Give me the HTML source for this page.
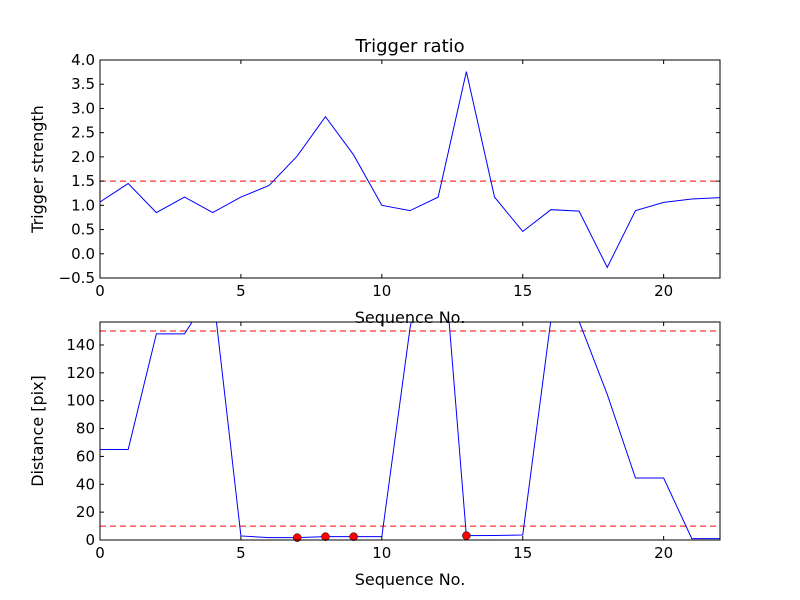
<!DOCTYPE html>
<html><head><meta charset="utf-8"><style>body{margin:0;background:#fff}svg{display:block;font-family:"DejaVu Sans","Liberation Sans",sans-serif}</style></head>
<body>
<svg id="c" width="800" height="600"></svg>
<script>
const xTicks=[0,5,10,15,20];
const ratioValues=[1.07,1.45,0.85,1.17,0.85,1.17,1.41,2.02,2.83,2.04,1.0,0.89,1.17,3.76,1.17,0.46,0.91,0.88,-0.28,0.89,1.06,1.13,1.16];
const ratioThreshold=1.5;
const ratioTicks=[-0.5,0,0.5,1,1.5,2,2.5,3,3.5,4];
const ratioTickLabels=["\u22120.5","0.0","0.5","1.0","1.5","2.0","2.5","3.0","3.5","4.0"];
const distValues=[65,65,148,148,180,2.9,1.7,1.7,2.4,2.4,2.4,152,254,3.1,3.2,3.6,158,157,104.5,44.5,44.5,1,1];
const distMarked=[7,8,9,13];
const distThresholds=[150,10];
const distTicks=[0,20,40,60,80,100,120,140];
const NS="http://www.w3.org/2000/svg";
const svg=document.getElementById('c');
function mk(t,a,p){const e=document.createElementNS(NS,t);for(const k in a)e.setAttribute(k,a[k]);(p||svg).appendChild(e);return e;}
function panel(id,top,bot,ymin,ymax,yt,ytl,vals,thr,title,ylabel,marked){
  const L=100,R=720;
  const sx=v=>L+(v-0)/22*(R-L), sy=v=>bot-(v-ymin)/(ymax-ymin)*(bot-top);
  const g=mk('g',{});
  
  
  const cp=mk('clipPath',{id:id+'-clip'},g);mk('rect',{x:L,y:top,width:R-L,height:bot-top},cp);
  const plot=mk('g',{'clip-path':'url(#'+id+'-clip)'},g);
  thr.forEach(t=>{const l=mk('line',{x1:L,x2:R,y1:sy(t),y2:sy(t),stroke:'#ff0000','stroke-dasharray':'6,4','stroke-width':1},plot);
    });
  const pl=mk('polyline',{points:vals.map((v,i)=>sx(i)+','+sy(v)).join(' '),fill:'none',stroke:'#0000ff','stroke-width':1},plot);
  
  (marked||[]).forEach(i=>{const c=mk('circle',{cx:sx(i),cy:sy(vals[i]),r:4,fill:'#ff0000',stroke:'#000','stroke-width':0.5},g);
    });
  mk('rect',{x:L,y:top,width:R-L,height:bot-top,fill:'none',stroke:'#000','stroke-width':1},g);
  xTicks.forEach(t=>{const x=sx(t);mk('line',{x1:x,x2:x,y1:bot,y2:bot-4,stroke:'#000'},g);mk('line',{x1:x,x2:x,y1:top,y2:top+4,stroke:'#000'},g);
    const tx=mk('text',{x:x,y:bot+18,'text-anchor':'middle','font-size':15},g);tx.textContent=t;
    });
  yt.forEach((t,i)=>{const y=sy(t);mk('line',{x1:L,x2:L+4,y1:y,y2:y,stroke:'#000'},g);mk('line',{x1:R,x2:R-4,y1:y,y2:y,stroke:'#000'},g);
    const tx=mk('text',{x:L-5,y:y+5,'text-anchor':'end','font-size':15},g);tx.textContent=ytl[i];
    });
  const xl=mk('text',{x:(L+R)/2,y:bot+45,'text-anchor':'middle','font-size':16},g);xl.textContent='Sequence No.';
  
  const yl=mk('text',{x:0,y:0,'text-anchor':'middle','font-size':16,transform:'translate(43,'+((top+bot)/2)+') rotate(-90)'},g);yl.textContent=ylabel;
  
  if(title){const ti=mk('text',{x:(L+R)/2,y:top-8,'text-anchor':'middle','font-size':18},g);ti.textContent=title;
    }
}
panel('trigger-panel',60,278,-0.5,4.0,ratioTicks,ratioTickLabels,ratioValues,[ratioThreshold],'Trigger ratio','Trigger strength',[]);
panel('distance-panel',322,540,0,156.5,distTicks,distTicks.map(String),distValues,distThresholds,null,'Distance [pix]',distMarked);
</script>
</body></html>
